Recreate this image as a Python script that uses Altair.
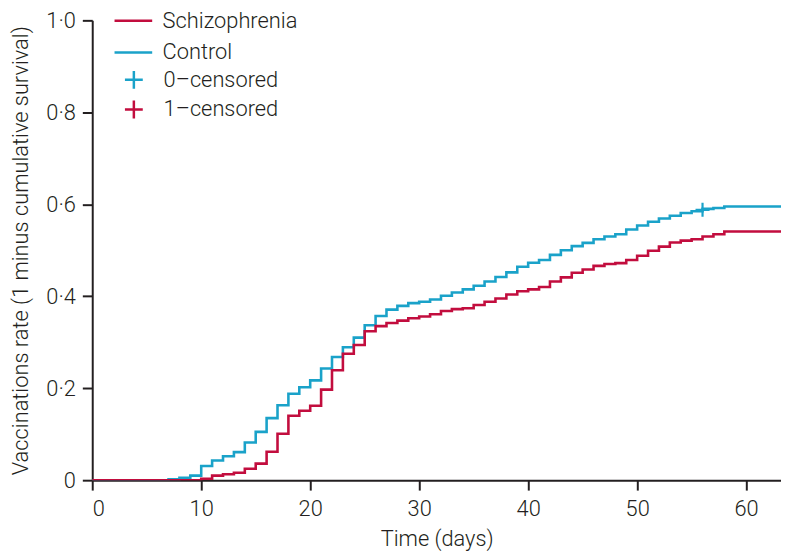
import altair as alt
import pandas as pd

# ---- data ----
days = list(range(0, 59)) + [64]

control = [0, 0, 0, 0, 0, 0, 0, 0.002, 0.005, 0.010,
           0.031, 0.043, 0.052, 0.061, 0.082, 0.105, 0.135, 0.163, 0.188, 0.202,
           0.217, 0.243, 0.268, 0.289, 0.310, 0.337, 0.357, 0.371, 0.379, 0.385,
           0.388, 0.393, 0.401, 0.408, 0.415, 0.423, 0.432, 0.442, 0.452, 0.464,
           0.473, 0.479, 0.490, 0.500, 0.509, 0.516, 0.524, 0.530, 0.535, 0.545,
           0.554, 0.562, 0.569, 0.575, 0.581, 0.585, 0.590, 0.592, 0.595, 0.595]

schizophrenia = [0, 0, 0, 0, 0, 0, 0, 0, 0, 0,
                 0.003, 0.010, 0.013, 0.016, 0.025, 0.036, 0.062, 0.101, 0.140, 0.151,
                 0.162, 0.197, 0.239, 0.275, 0.294, 0.324, 0.335, 0.342, 0.347, 0.352,
                 0.356, 0.361, 0.368, 0.372, 0.374, 0.381, 0.388, 0.395, 0.404, 0.411,
                 0.415, 0.420, 0.432, 0.441, 0.451, 0.458, 0.466, 0.470, 0.472, 0.479,
                 0.488, 0.499, 0.508, 0.517, 0.521, 0.524, 0.530, 0.535, 0.541, 0.541]

groups = ["Schizophrenia", "Control"]
group_colors = ["#c20d3e", "#1aa2c9"]

censor_labels = ["0\u2013censored", "1\u2013censored"]
censor_colors = ["#1aa2c9", "#c20d3e"]
censor_day = [56]
censor_value = [0.588]
censor_group = ["0\u2013censored"]

x_ticks = [0, 10, 20, 30, 40, 50, 60]
y_ticks = [0, 0.2, 0.4, 0.6, 0.8, 1.0]

# ---- tables ----
lines_df = pd.DataFrame({
    "day": days * 2,
    "rate": control + schizophrenia,
    "group": ["Control"] * len(days) + ["Schizophrenia"] * len(days),
})
cens_df = pd.DataFrame({"day": censor_day, "rate": censor_value, "cens": censor_group})

FONT = "Roboto"
INK = "#231f20"
CROSS = "M-1,0H1M0,-1V1"

xscale = alt.Scale(domain=[0, 63.2], nice=False, zero=False)
yscale = alt.Scale(domain=[0, 1], nice=False)

xaxis = alt.Axis(values=x_ticks, title="Time (days)", labelPadding=9, titlePadding=9,
                 format="d", titleFontSize=22)
yaxis = alt.Axis(values=y_ticks, title="Vaccinations rate (1 minus cumulative survival)",
                 labelExpr="datum.value == 0 ? '0' : replace(format(datum.value, '.1f'), '.', '\u00b7')",
                 labelPadding=7, titlePadding=13, titleFontSize=22)

color_legend = alt.Legend(title=None, orient="none", legendX=21, legendY=-20,
                          symbolType="stroke", symbolSize=1444, symbolStrokeWidth=2.5,
                          labelOffset=9, rowPadding=-2, labelFontSize=22, labelFont=FONT,
                          labelFontWeight=300, labelColor=INK, padding=0)
cens_legend = alt.Legend(title=None, orient="none", legendX=31, legendY=49,
                         symbolSize=324, symbolStrokeWidth=2.5, labelOffset=19,
                         rowPadding=2, labelFontSize=22, labelFont=FONT,
                         labelFontWeight=300, labelColor=INK, padding=0)

color_enc = alt.Color("group:N", scale=alt.Scale(domain=groups, range=group_colors),
                      legend=color_legend)

base = alt.Chart(lines_df)

control_line = base.transform_filter(alt.datum.group == "Control").mark_line(
    interpolate="step-after", strokeWidth=2.6, clip=True
).encode(
    x=alt.X("day:Q", scale=xscale, axis=xaxis),
    y=alt.Y("rate:Q", scale=yscale, axis=yaxis),
    color=color_enc,
)

schizo_line = base.transform_filter(alt.datum.group == "Schizophrenia").mark_line(
    interpolate="step-after", strokeWidth=2.6, clip=True
).encode(
    x=alt.X("day:Q", scale=xscale),
    y=alt.Y("rate:Q", scale=yscale),
    color=color_enc,
)

cens_points = alt.Chart(cens_df).mark_point(filled=False, strokeWidth=2.2, size=200, opacity=1).encode(
    x=alt.X("day:Q", scale=xscale),
    y=alt.Y("rate:Q", scale=yscale),
    shape=alt.Shape("cens:N", scale=alt.Scale(domain=censor_labels, range=[CROSS, CROSS]),
                    legend=cens_legend),
    stroke=alt.Stroke("cens:N", scale=alt.Scale(domain=censor_labels, range=censor_colors),
                      legend=cens_legend),
)

chart = alt.layer(control_line, schizo_line, cens_points).properties(
    width=695,
    height=464,
    autosize=alt.AutoSizeParams(type="none"),
    padding={"left": 85, "top": 10, "right": 0, "bottom": 70},
).configure_view(
    strokeWidth=0
).configure_axis(
    grid=False,
    domainColor=INK, domainWidth=2,
    tickColor=INK, tickWidth=2, tickSize=10,
    labelFont=FONT, labelFontSize=22, labelColor=INK, labelFontWeight=300,
    titleFont=FONT, titleFontSize=22, titleColor=INK, titleFontWeight=300,
)

chart.save("out.html", embed_options={"renderer": "svg", "actions": False})
